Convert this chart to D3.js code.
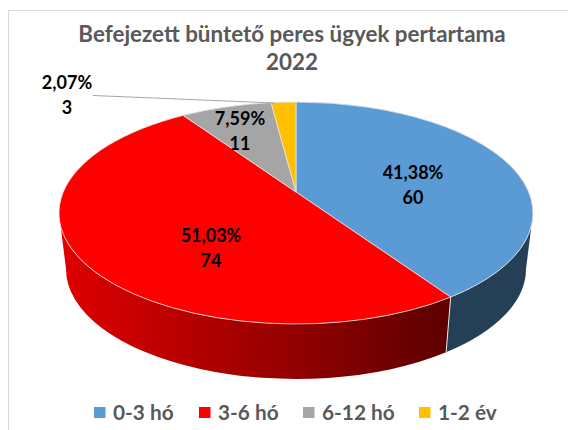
<!DOCTYPE html>
<html><head><meta charset="utf-8">
<script src="https://cdn.jsdelivr.net/npm/d3@7/dist/d3.min.js"></script>
<style>html,body{margin:0;padding:0;background:#fff}svg{display:block}text{font-family:Lato,"Open Sans",sans-serif;font-weight:700}</style>
</head><body><svg id="c" width="568" height="430"></svg>
<script>
const titleLines = ["Befejezett büntető peres ügyek pertartama", "2022"];
const categories = ["0-3 hó", "3-6 hó", "6-12 hó", "1-2 év"];
const values = [60, 74, 11, 3];
const percentLabels = ["41,38%", "51,03%", "7,59%", "2,07%"];
const colors = ["#5b9bd5", "#ff0000", "#a5a5a5", "#ffc000"];
const wallColors = ["#243f56", "url(#redWall)", "#6a6a6a", "#a07800"];

const svg = d3.select("#c");
const W = 568, H = 430;
const deg = Math.PI / 180;

const topE = {cx: 296, cy: 213, rx: 237, ry: 111};
const botE = {cx: 296, cy: 269, rx: 230, ry: 110};
const apex = [296, 192];
// perspective of the tilted disc: disc angle (radians) -> angle on the drawn ellipse (degrees)
const persp = 0.189, discX = 233, discY = 107;
const toEllipse = a => {
  const w = 1 + persp * Math.cos(a);
  const x = discX * Math.sin(a) / w;
  const y = apex[1] - discY * Math.cos(a) / w;
  const t = Math.atan2(x / topE.rx, (topE.cy - y) / topE.ry) / deg;
  return t < 0 ? t + 360 : t;
};
const pt = (e, t) => [e.cx + e.rx * Math.sin(t * deg), e.cy - e.ry * Math.cos(t * deg)];

const defs = svg.append("defs");
const grad = defs.append("linearGradient").attr("id", "redWall")
  .attr("gradientUnits", "userSpaceOnUse").attr("x1", 60).attr("x2", 450).attr("y1", 0).attr("y2", 0);
grad.append("stop").attr("offset", 0).attr("stop-color", "#e00000");
grad.append("stop").attr("offset", 0.5).attr("stop-color", "#a00000");
grad.append("stop").attr("offset", 1).attr("stop-color", "#5c0000");

svg.append("rect").attr("x", 8.5).attr("y", 10.5).attr("width", W).attr("height", H)
  .attr("fill", "#fff").attr("stroke", "#d9d9d9");

const pie = d3.pie().sort(null).startAngle(0).endAngle(2 * Math.PI).value(d => d);
const arcs = pie(values).map((d, i) => ({
  i,
  t0: i === 0 ? 0 : toEllipse(d.startAngle),
  t1: i === values.length - 1 ? 360 : toEllipse(d.endAngle)
}));

// walls: only the front half (90..270) is visible
const wall = svg.append("g");
arcs.forEach(a => {
  const t0 = Math.max(a.t0, 90), t1 = Math.min(a.t1, 270);
  if (t1 <= t0) return;
  const p0 = pt(topE, t0), p1 = pt(topE, t1), q1 = pt(botE, t1), q0 = pt(botE, t0);
  wall.append("path")
    .attr("d", `M${p0}A${topE.rx},${topE.ry} 0 0 1 ${p1}L${q1}A${botE.rx},${botE.ry} 0 0 0 ${q0}Z`)
    .attr("fill", wallColors[a.i]);
  if (a.t0 >= 90) wall.append("line")
    .attr("x1", p0[0]).attr("y1", p0[1]).attr("x2", q0[0]).attr("y2", q0[1])
    .attr("stroke", "#e8e8e8").attr("stroke-width", 1);
});

// top face
svg.append("g").selectAll("path").data(arcs).join("path")
  .attr("d", a => {
    const p0 = pt(topE, a.t0), p1 = pt(topE, a.t1);
    const large = a.t1 - a.t0 > 180 ? 1 : 0;
    return `M${apex}L${p0}A${topE.rx},${topE.ry} 0 ${large} 1 ${p1}Z`;
  })
  .attr("fill", a => colors[a.i])
  .attr("stroke", "#e6e6e6").attr("stroke-width", 0.8).attr("stroke-linejoin", "round");

// leader line for the smallest slice
svg.append("line")
  .attr("x1", 93).attr("y1", 95.5)
  .attr("x2", pt(topE, arcs[3].t0)[0] + 4).attr("y2", 103)
  .attr("stroke", "#a6a6a6").attr("stroke-width", 1);

// data labels
const labelPos = [[413, 173], [211, 236], [240, 119], [67, 83]];
const labelStep = 25;
const lab = svg.append("g").attr("fill", "#000").attr("font-size", 18).attr("text-anchor", "middle");
values.forEach((v, i) => {
  lab.append("text").attr("x", labelPos[i][0]).attr("y", labelPos[i][1] + 6).text(percentLabels[i]);
  lab.append("text").attr("x", labelPos[i][0]).attr("y", labelPos[i][1] + 6 + labelStep).text(v);
});

// title
svg.append("g").attr("fill", "#595959").attr("font-size", 22.4).attr("text-anchor", "middle")
  .selectAll("text").data(titleLines).join("text")
  .attr("x", 292).attr("y", (d, i) => 42 + i * 28).text(d => d);

// legend
const legendX = [94, 199, 303, 419];
const leg = svg.append("g").selectAll("g").data(categories).join("g")
  .attr("transform", (d, i) => `translate(${legendX[i]},407)`);
leg.append("rect").attr("width", 11.5).attr("height", 11).attr("fill", (d, i) => colors[i]);
leg.append("text").attr("x", 19).attr("y", 12.5).attr("fill", "#595959").attr("font-size", 20.8).text(d => d);
</script></body></html>
